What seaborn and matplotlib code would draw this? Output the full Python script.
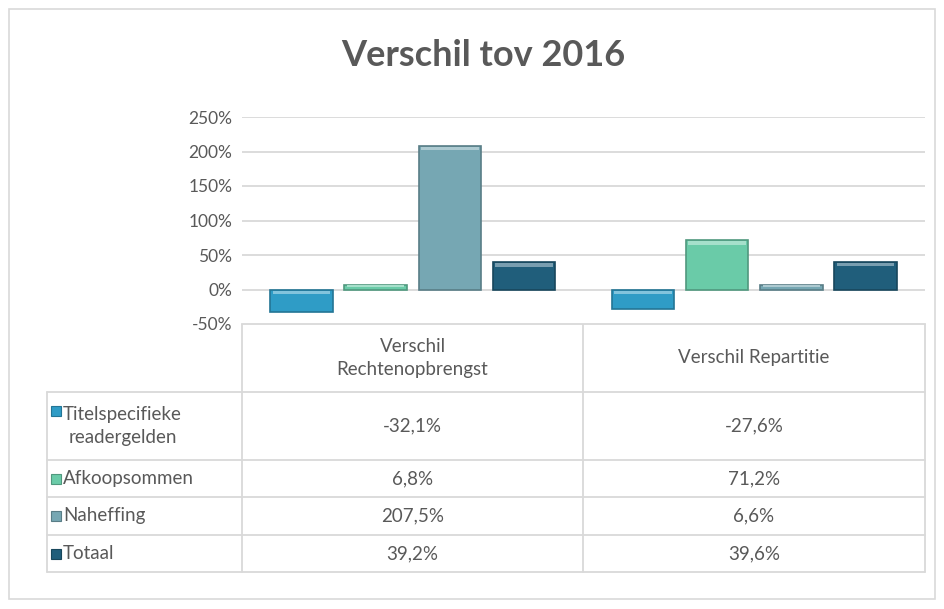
import matplotlib
matplotlib.use("Agg")
import matplotlib.pyplot as plt
import seaborn as sns
import pandas as pd
import numpy as np
from matplotlib.patches import Rectangle
from matplotlib.ticker import FuncFormatter
import matplotlib.colors as mcolors

# ---- data ----
categories = ["Verschil Rechtenopbrengst", "Verschil Repartitie"]
category_labels = ["Verschil\nRechtenopbrengst", "Verschil Repartitie"]
series = ["Titelspecifieke\nreadergelden", "Afkoopsommen", "Naheffing", "Totaal"]
rechtenopbrengst = [-32.1, 6.8, 207.5, 39.2]
repartitie = [-27.6, 71.2, 6.6, 39.6]
colors = ["#2F9CC6", "#6ACBA8", "#76A7B3", "#205E7B"]
yticks = [-50, 0, 50, 100, 150, 200, 250]

rows = []
for s, a, b in zip(series, rechtenopbrengst, repartitie):
    rows.append({"cat": categories[0], "serie": s, "val": a})
    rows.append({"cat": categories[1], "serie": s, "val": b})
df = pd.DataFrame(rows)

sns.set_theme(style="white")
plt.rcParams["font.family"] = ["Lato", "DejaVu Sans"]
TXT = "#595959"
GRID = "#D9D9D9"

W, H = 944, 609
fig = plt.figure(figsize=(W / 100, H / 100), dpi=100)

def px(x0, y0, x1, y1):
    return [x0 / W, 1 - y1 / H, (x1 - x0) / W, (y1 - y0) / H]

ax = fig.add_axes(px(242, 117, 925, 324))
sns.barplot(data=df, x="cat", y="val", hue="serie", order=categories,
            hue_order=series, palette=colors, width=0.87, gap=0.16,
            ax=ax, legend=False, saturation=1)

# bevel-like styling derived from the drawn bars
for patch in list(ax.patches):
    fc = np.array(mcolors.to_rgb(patch.get_facecolor()))
    patch.set_edgecolor(tuple(fc * 0.75))
    patch.set_linewidth(1.2)
    x, y = patch.get_x(), patch.get_y()
    w, h = patch.get_width(), patch.get_height()
    hh = abs(h)
    band = min(hh * 0.3, 5)
    light = tuple(np.clip(fc + (1 - fc) * 0.4, 0, 1))
    top = max(y, y + h)
    bot = min(y, y + h)
    if h >= 0:
        ax.add_patch(Rectangle((x + w * 0.04, top - band - min(hh * 0.08, 1)), w * 0.92, band,
                               facecolor=light, edgecolor="none", zorder=3))
    else:
        ax.add_patch(Rectangle((x + w * 0.04, top - band - 1.5), w * 0.92, band,
                               facecolor=light, edgecolor="none", zorder=3))

ax.set_ylim(-50, 250)
ax.set_yticks(yticks)
ax.yaxis.set_major_formatter(FuncFormatter(lambda v, p: f"{int(v)}%"))
ax.tick_params(axis="y", labelsize=12.5, colors=TXT, length=0, pad=7)
ax.set_xticks([])
ax.set_xlabel("")
ax.set_ylabel("")
ax.grid(axis="y", color=GRID, linewidth=1.3)
ax.set_axisbelow(True)
for s in ax.spines.values():
    s.set_visible(False)

# ---- overlay for title, table, border ----
ov = fig.add_axes([0, 0, 1, 1], zorder=-1)
ov.set_xlim(0, W)
ov.set_ylim(H, 0)
ov.axis("off")
ov.patch.set_alpha(0)

ov.add_patch(Rectangle((9, 9), 926, 590, fill=False, edgecolor=GRID, linewidth=1.2))
ov.text(483, 55, "Verschil tov 2016", ha="center", va="center",
        fontsize=26, fontweight="bold", color=TXT)

col_x = [47, 242, 583, 925]
row_y = [324, 392, 460, 497, 535, 572]
lw = 1.3
ov.plot([242, 925], [324, 324], color=GRID, lw=lw)
for y in row_y[1:]:
    ov.plot([47, 925], [y, y], color=GRID, lw=lw)
ov.plot([47, 47], [392, 572], color=GRID, lw=lw)
for x in col_x[1:]:
    ov.plot([x, x], [324, 572], color=GRID, lw=lw)

fs = 13.5
for i, lab in enumerate(category_labels):
    cx = (col_x[i + 1] + col_x[i + 2]) / 2
    ov.text(cx, 358, lab, ha="center", va="center", fontsize=fs, color=TXT,
            multialignment="center", linespacing=1.45)

for r, (s, c) in enumerate(zip(series, colors)):
    y0, y1 = row_y[r + 1], row_y[r + 2]
    cy = (y0 + y1) / 2
    ov.text(63, cy, s, ha="left", va="center", fontsize=fs, color=TXT,
            multialignment="center", linespacing=1.45)
    my = cy - 15 if "\n" in s else cy
    ov.add_patch(Rectangle((51, my - 5), 10, 10, facecolor=c,
                           edgecolor=tuple(np.array(mcolors.to_rgb(c)) * 0.75), lw=0.8))
    for j, vals in enumerate([rechtenopbrengst, repartitie]):
        cx = (col_x[j + 1] + col_x[j + 2]) / 2
        txt = f"{vals[r]:.1f}%".replace(".", ",")
        ov.text(cx, cy, txt, ha="center", va="center", fontsize=fs, color=TXT)

fig.savefig("out.png", dpi=100, facecolor="white")
